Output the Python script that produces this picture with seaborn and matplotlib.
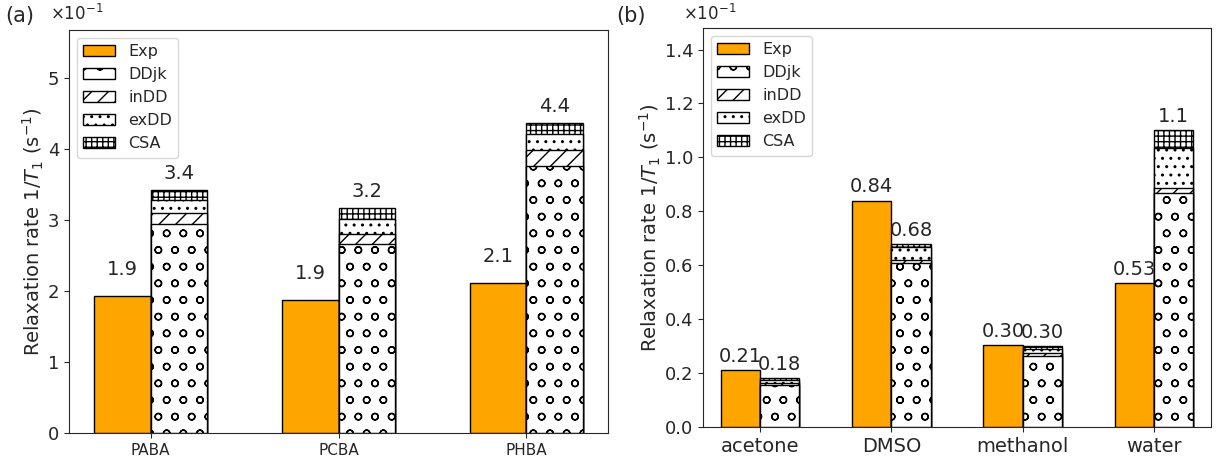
import numpy as np
import pandas as pd
import seaborn as sns
import matplotlib.pyplot as plt
from matplotlib.patches import Patch

# panel (a): values in units of 1e-1 s^-1
cats_a = ["PABA", "PCBA", "PHBA"]
exp_a = [1.93, 1.88, 2.12]
ddjk_a = [2.95, 2.67, 3.76]
indd_a = [0.15, 0.14, 0.23]
exdd_a = [0.19, 0.21, 0.22]
csa_a = [0.14, 0.15, 0.16]

# panel (b)
cats_b = ["acetone", "DMSO", "methanol", "water"]
exp_b = [0.212, 0.840, 0.303, 0.533]
ddjk_b = [0.155, 0.608, 0.265, 0.868]
indd_b = [0.010, 0.011, 0.010, 0.018]
exdd_b = [0.010, 0.049, 0.015, 0.149]
csa_b = [0.005, 0.011, 0.010, 0.067]

parts = ["DDjk", "inDD", "exDD", "CSA"]
hatches = {"DDjk": "o", "inDD": "//", "exDD": "..", "CSA": "+++"}
orange = "#FFA500"

sns.set_style("ticks")
plt.rcParams["font.family"] = ["DejaVu Sans"]
plt.rcParams["hatch.linewidth"] = 1.0


def draw_panel(ax, cats, exp, comps, xfont, off_exp, off_tot, ytop):
    pos = np.arange(len(cats))
    df = pd.DataFrame({"pos": pos, "Exp": exp})
    for name, vals in zip(parts, comps):
        df[name] = vals
    # cumulative sums, drawn from the top part down so each covers the one below
    cum = df[parts].cumsum(axis=1)
    sns.barplot(x=df["pos"] - 0.15, y=df["Exp"], native_scale=True, width=0.3,
                color=orange, saturation=1, edgecolor="black", linewidth=1,
                errorbar=None, ax=ax)
    for name in reversed(parts):
        sns.barplot(x=df["pos"] + 0.15, y=cum[name], native_scale=True, width=0.3,
                    color="white", saturation=1, edgecolor="black", linewidth=1,
                    hatch=hatches[name], errorbar=None, ax=ax)
    total = cum[parts[-1]]
    for p, e, t in zip(pos, exp, total):
        ax.annotate(f"{e:#.2g}", (p - 0.15, e), xytext=(0, off_exp), textcoords="offset points",
                    ha="center", va="bottom", fontsize=14)
        ax.annotate(f"{t:#.2g}", (p + 0.15, t), xytext=(0, off_tot), textcoords="offset points",
                    ha="center", va="bottom", fontsize=14)
    ax.set_xticks(pos)
    ax.set_xticklabels(cats, fontsize=xfont)
    ax.set_xlim(-0.435, len(cats) - 1 + 0.435)
    ax.set_ylim(0, ytop)
    ax.set_xlabel("")
    ax.set_ylabel("Relaxation rate 1/$T_1$ (s$^{-1}$)", fontsize=14, labelpad=1)
    ax.tick_params(axis="y", labelsize=13)
    handles = [Patch(facecolor=orange, edgecolor="black", label="Exp")]
    handles += [Patch(facecolor="white", edgecolor="black", hatch=hatches[n], label=n) for n in parts]
    ax.legend(handles=handles, loc="upper left", fontsize=11.5)


fig = plt.figure(figsize=(12.2, 4.65), dpi=100)
ax1 = fig.add_axes([69 / 1220, 1 - 433 / 465, 539 / 1220, 403 / 465])
ax2 = fig.add_axes([703 / 1220, 1 - 427 / 465, 508 / 1220, 399 / 465])

draw_panel(ax1, cats_a, exp_a, [ddjk_a, indd_a, exdd_a, csa_a], 11, 12, 5, 5.68)
ax1.set_yticks([0, 1, 2, 3, 4, 5])
draw_panel(ax2, cats_b, exp_b, [ddjk_b, indd_b, exdd_b, csa_b], 14, 3, 3, 1.48)
ax2.set_yticks(np.arange(0, 1.41, 0.2))
ax2.yaxis.set_major_formatter(plt.FormatStrFormatter("%.1f"))

fig.text(0.004, 0.966, "(a)", fontsize=15, va="center")
fig.text(0.505, 0.966, "(b)", fontsize=15, va="center")
fig.text(50 / 1220, 1 - 14 / 465, r"$\times10^{-1}$", fontsize=12, va="center")
fig.text(683 / 1220, 1 - 14 / 465, r"$\times10^{-1}$", fontsize=12, va="center")

fig.savefig("out.png", dpi=100)
